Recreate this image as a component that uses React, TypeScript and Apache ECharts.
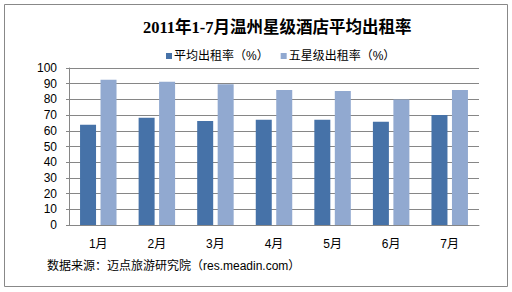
import React, { useEffect, useRef } from "react";
import * as echarts from "echarts";

const categories = ["1月", "2月", "3月", "4月", "5月", "6月", "7月"];
const avgRate = [63.8, 68.3, 66.3, 67.0, 67.0, 65.7, 70.1];
const fiveStarRate = [92.5, 91.2, 89.6, 86.0, 85.4, 80.0, 86.0];
const seriesNames = ["平均出租率（%）", "五星级出租率（%）"];
const titleText = "2011年1-7月温州星级酒店平均出租率";
const sourceText = "数据来源：迈点旅游研究院（res.meadin.com）";

export default function App() {
  const ref = useRef<HTMLDivElement>(null);
  useEffect(() => {
    if (!ref.current) return;
    const chart = echarts.init(ref.current, undefined, { renderer: "svg" });
    const cjk = "'Liberation Sans', 'Noto Sans CJK SC', sans-serif";
    chart.setOption({
      animation: false,
      backgroundColor: "#ffffff",
      title: [
        {
          text: titleText,
          left: 138,
          top: 14,
          textStyle: {
            fontSize: 16.5,
            fontWeight: "bold",
            color: "#000",
            fontFamily: "'Liberation Serif', 'Noto Sans CJK SC', serif",
          },
        },
        {
          text: sourceText,
          left: 42,
          top: 255,
          textStyle: { fontSize: 12, fontWeight: "normal", color: "#000", fontFamily: cjk },
        },
      ],
      legend: {
        data: seriesNames,
        top: 45,
        left: 161,
        icon: "rect",
        itemWidth: 6,
        itemHeight: 6,
        itemGap: 12,
        textStyle: { fontSize: 12, color: "#000", fontFamily: cjk, padding: [0, 0, 0, -3] },
      },
      graphic: [
        {
          type: "rect",
          shape: { x: 4.5, y: 4.5, width: 503, height: 282 },
          style: { fill: "none", stroke: "#888888", lineWidth: 1 },
          silent: true,
        },
      ],
      grid: { left: 69, right: 33, top: 68, bottom: 67 },
      xAxis: {
        type: "category",
        data: categories,
        axisLine: { show: true, lineStyle: { color: "#868686", width: 1 } },
        axisTick: { show: false },
        axisLabel: { fontSize: 12, color: "#000", margin: 13, fontFamily: cjk },
      },
      yAxis: {
        type: "value",
        min: 0,
        max: 100,
        interval: 10,
        axisLine: { show: true, lineStyle: { color: "#868686", width: 1 } },
        axisTick: { show: true, length: 3, lineStyle: { color: "#868686" } },
        axisLabel: { fontSize: 12, color: "#000", margin: 12, fontFamily: cjk },
        splitLine: { show: true, lineStyle: { color: "#868686", width: 1 } },
      },
      series: [
        {
          name: seriesNames[0],
          type: "bar",
          data: avgRate,
          barWidth: 16,
          barGap: "28%",
          itemStyle: { color: "#4672A8" },
        },
        {
          name: seriesNames[1],
          type: "bar",
          data: fiveStarRate,
          barWidth: 16,
          itemStyle: { color: "#91A9D0" },
        },
      ],
    });
    return () => chart.dispose();
  }, []);
  return (
    <div
      ref={ref}
      style={{ position: "fixed", left: 0, top: 0, width: 512, height: 292 }}
    />
  );
}
